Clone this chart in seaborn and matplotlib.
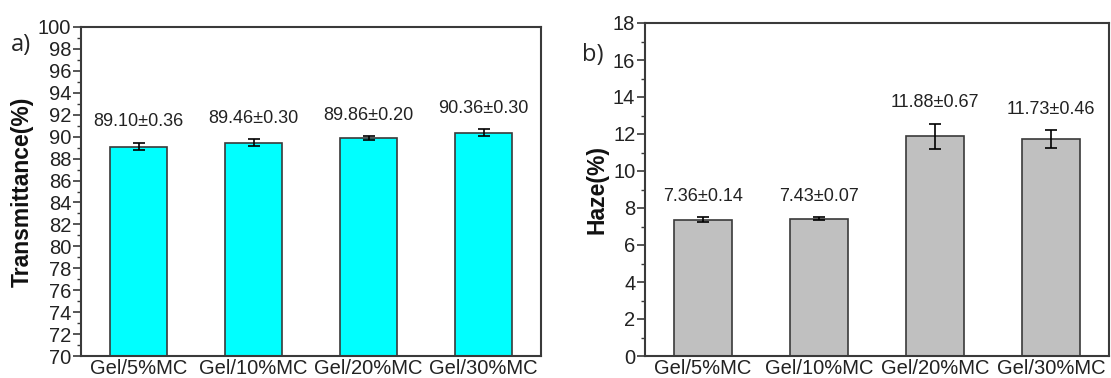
import matplotlib
matplotlib.use("Agg")
import matplotlib.pyplot as plt
from matplotlib.ticker import MultipleLocator
import seaborn as sns
import pandas as pd

categories = ["Gel/5%MC", "Gel/10%MC", "Gel/20%MC", "Gel/30%MC"]
trans_mean = [89.10, 89.46, 89.86, 90.36]
trans_sd = [0.36, 0.30, 0.20, 0.30]
haze_mean = [7.36, 7.43, 11.88, 11.73]
haze_sd = [0.14, 0.07, 0.67, 0.46]

sns.set_theme(style="white")
plt.rcParams['font.family'] = ['Liberation Sans', 'DejaVu Sans']

fig = plt.figure(figsize=(11.11, 3.78), dpi=100)
W, H = 1111, 378
axA = fig.add_axes([81 / W, 1 - 356 / H, (541 - 81) / W, (356 - 27) / H])
axB = fig.add_axes([645 / W, 1 - 356 / H, (1109 - 645) / W, (356 - 23) / H])

edge = "#3a3a3a"


def panel(ax, means, sds, color, ylim, ylabel, fmt_offset):
    df = pd.DataFrame({"cat": categories, "val": means})
    sns.barplot(data=df, x="cat", y="val", ax=ax, color=color, width=0.5,
                edgecolor=edge, linewidth=1.2, errorbar=None, saturation=1)
    xs = list(range(len(categories)))
    ax.errorbar(xs, means, yerr=sds, fmt="none", ecolor="black",
                elinewidth=1.2, capsize=4, capthick=1.2)
    for x, m, s in zip(xs, means, sds):
        ax.annotate(f"{m:.2f}±{s:.2f}", xy=(x, m + s), xytext=(0, fmt_offset),
                    textcoords="offset points", ha="center", va="center",
                    fontsize=13, color="#222222")
    ax.set_xlim(-0.5, 3.5)
    ax.set_ylim(*ylim)
    ax.yaxis.set_major_locator(MultipleLocator(2))
    ax.yaxis.set_minor_locator(MultipleLocator(1))
    ax.tick_params(axis="y", which="major", direction="out", length=6, width=1.2,
                   color=edge, labelsize=14.5, pad=1, left=True, labelcolor="#222222")
    ax.tick_params(axis="y", which="minor", direction="out", length=3, width=1.0,
                   color=edge, left=True)
    ax.tick_params(axis="x", length=0, labelsize=14.5, pad=2, labelcolor="#222222")
    ax.set_xlabel("")
    ax.set_ylabel(ylabel, fontsize=16.5, fontweight="bold", labelpad=3, color="#111111")
    for sp in ax.spines.values():
        sp.set_visible(True)
        sp.set_color(edge)
        sp.set_linewidth(1.5)
    ax.set_facecolor("white")


panel(axA, trans_mean, trans_sd, "#00FFFF", (70, 100), "Transmittance(%)", 15)
panel(axB, haze_mean, haze_sd, "#C0C0C0", (0, 18), "Haze(%)", 15)

fig.text(11 / W, 1 - 45 / H, "a)", fontsize=17, ha="left", va="center",
         family=["Open Sans", "DejaVu Sans"])
fig.text(582 / W, 1 - 55 / H, "b)", fontsize=17, ha="left", va="center",
         family=["Open Sans", "DejaVu Sans"])

fig.savefig("out.png", dpi=100, facecolor="white")
